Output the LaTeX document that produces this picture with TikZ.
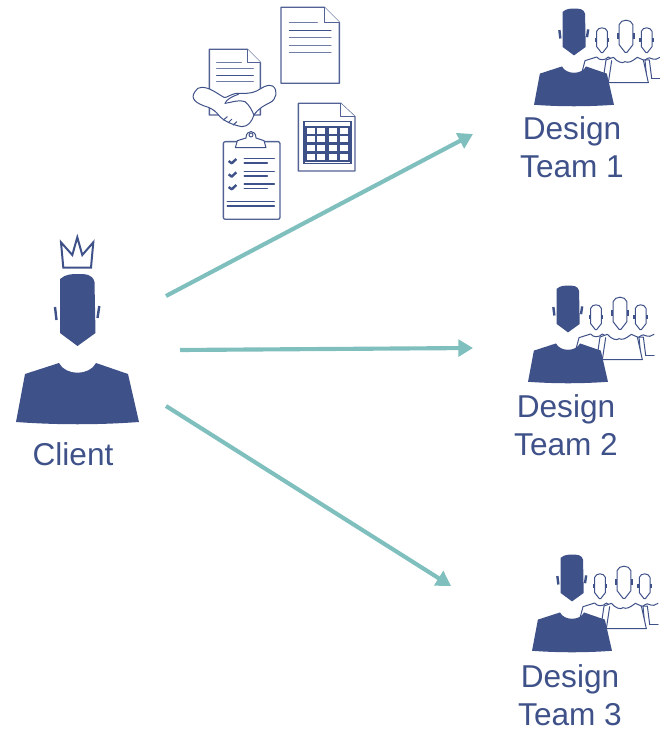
\documentclass[tikz,border=0pt]{standalone}
\usepackage{fontspec}
\setmainfont{Liberation Sans}
\usetikzlibrary{arrows.meta}
\definecolor{ink}{HTML}{3F5189}
\definecolor{teal}{HTML}{7FBFBD}
\tikzset{
  x=0.75pt,y=-0.75pt,
  flow/.style={draw=teal,line width=3.1pt,-{Triangle[length=11pt,width=12.5pt]}},
  lbl/.style={text=ink,font=\fontsize{23.7}{24}\selectfont,inner sep=0pt,anchor=base},
  thin ink/.style={draw=ink,line width=.75pt,line join=round,line cap=round},
  thick ink/.style={draw=ink,line width=1.2pt,line cap=round},
  doc/.style={draw=ink!90,line width=1pt,line join=round,fill=white},
  pics/leader/.style={code={
    \fill[ink] (-17.5,-31) .. controls (-12,-36) and (-5,-36) .. (0,-36) .. controls (8,-36) and (15,-36) .. (17,-28) -- (18,23) -- (0,36) -- (-17.5,23) -- cycle;
    \fill[ink] (-18.5,53) .. controls (-12,66) and (12,66) .. (18.5,53) -- (50.5,64) -- (61.5,112) .. controls (20,115) and (-20,115) .. (-61.5,112) -- (-52.5,64) -- cycle;
    \draw[ink,line width=1.8pt] (-22.5,-3) -- (-21,10) (21.8,-4) -- (20,8);
  }},
  pics/follower/.style={code={
    \draw[thin ink,fill=white] (-16,-26) .. controls (-12,-40) and (12,-40) .. (16,-26) -- (16,20) -- (2,38) -- (-2,38) -- (-16,20) -- cycle;
    \draw[ink,line width=1.3pt] (-19,-6) -- (-19,7) (19,-6) -- (19,7);
  }},
  pics/teamgroup/.style={code={
    \begin{scope}[shift={(6,-22)},x=0.25pt,y=-0.25pt]
      % right follower body
      \draw[thin ink,fill=white] (200,205) -- (195,150) .. controls (205,142) and (212,142) .. (218,147) .. controls (225,152) and (230,146) .. (240,142);
      \draw[thin ink] (215,205) -- (240,205);
      % left follower body
      \draw[thin ink,fill=white] (5,190) -- (15,152) -- (50,141) .. controls (58,152) and (75,152) .. (85,141) -- (100,150) -- (80,190) -- cycle;
      % middle follower body
      \draw[thin ink,fill=white] (85,218) -- (68,218) -- (78,150) -- (100,142) .. controls (112,156) and (128,162) .. (135,155) .. controls (145,160) and (155,155) .. (172,142) -- (190,150) -- (205,218) -- cycle;
      \draw[thin ink] (85,218) -- (95,152);
      \draw[thin ink] (190,150) -- (208,150) -- (215,205);
      \pic at (66,90) {follower};
      \pic at (138,78) [scale=1.3] {follower};
      \pic at (200,90) {follower};
    \end{scope}
    \pic[scale=.65] at (0,0) {leader};
  }}
}
\begin{document}
\begin{tikzpicture}
\useasboundingbox (0,0) rectangle (659,730);

% client
\pic at (77.5,310) {leader};
\draw[draw=ink,line width=1.5pt,line join=miter] (63.3,267.7) -- (61,242.3) -- (72.3,255) -- (77.3,237.3) -- (82.3,255) -- (93.3,242.3) -- (91,267.7) -- cycle;
\node[lbl] (client) at (73,465) {Client};

% teams
\pic at (574,32) {teamgroup};
\pic at (568,309) {teamgroup};
\pic at (572,578) {teamgroup};
\node[lbl] (t1a) at (572,140) {Design};
\node[lbl] (t1b) at (572,178) {Team 1};
\node[lbl] (t2a) at (566,417) {Design};
\node[lbl] (t2b) at (566,455) {Team 2};
\node[lbl] (t3a) at (570,687) {Design};
\node[lbl] (t3b) at (570,725) {Team 3};

% documents, coordinates read off a 3x crop
\begin{scope}[shift={(180,0)},x=0.25pt,y=-0.25pt]
  % top document
  \draw[doc] (303,22) -- (433,22) -- (478,67) -- (478,250) -- (303,250) -- cycle;
  \draw[doc] (433,22) -- (433,67) -- (478,67);
  \draw[thin ink,draw=ink!75] (328,67) -- (412,67) (328,114) -- (453,114) (328,136) -- (453,136) (328,158) -- (453,158);
  \draw[thin ink] (328,91) -- (453,91);
  % document behind the handshake
  \draw[doc] (88,148) -- (202,148) -- (241,187) -- (241,345) -- (88,345) -- cycle;
  \draw[doc] (202,148) -- (202,187) -- (241,187);
  \draw[thin ink,draw=ink!75] (110,187) -- (184,187) (110,207) -- (220,207) (110,245) -- (220,245);
  \draw[thin ink] (110,226) -- (220,226);
  % handshake
  \draw[thin ink,fill=white] (45,275) .. controls (30,295) and (45,310) .. (85,322) .. controls (100,328) and (108,335) .. (120,350)
     .. controls (135,365) and (160,375) .. (185,380) .. controls (205,380) and (215,365) .. (222,345)
     .. controls (235,325) and (255,315) .. (270,308) .. controls (290,298) and (295,270) .. (278,258)
     .. controls (262,250) and (245,265) .. (230,273) .. controls (212,282) and (190,280) .. (172,280)
     .. controls (150,282) and (140,295) .. (132,292) .. controls (110,280) and (90,262) .. (65,262) .. controls (55,262) and (50,266) .. (45,275) -- cycle;
  \draw[thin ink] (135,310) .. controls (140,298) and (155,290) .. (175,283);
  \draw[thin ink] (135,310) .. controls (155,308) and (170,298) .. (195,305) .. controls (208,315) and (215,330) .. (222,345);
  \draw[thin ink] (130,360) -- (142,350) (145,368) -- (155,358) (160,375) -- (170,365);
  % table document
  \draw[doc] (355,310) -- (482,310) -- (525,350) -- (525,513) -- (355,513) -- cycle;
  \draw[doc] (482,310) -- (482,350) -- (525,350);
  \fill[ink] (368,362) rectangle (516,493);
  \fill[white] (374,366) rectangle (510,378);
  \fill[white] (374,485) rectangle (510,489);
  \foreach \xa/\xb in {380/404,412/436,446/471,481/504}
    \foreach \ya/\yb in {385/401,409/427,436/454,461/479}
      \fill[white] (\xa,\ya) rectangle (\xb,\yb);
  % clipboard
  \draw[doc,rounded corners=1.5pt] (130,425) rectangle (300,658);
  \draw[thin ink,fill=white] (166,443) -- (172,422) -- (198,414) .. controls (198,388) and (228,388) .. (228,414) -- (252,422) -- (258,443) -- cycle;
  \draw[thin ink] (213,405) circle [radius=6];
  \foreach \yy in {483,523,561}
    \draw[ink,line width=1.8pt,line join=round] (146,\yy) -- (155,\yy+7) -- (169,{\yy-6});
  \draw[thick ink] (193,475) -- (283,475) (193,489) -- (262,489) (193,515) -- (283,515) (193,528) -- (262,528) (193,552) -- (283,552) (193,566) -- (262,566) (142,605) -- (283,605) (142,618) -- (283,618);
\end{scope}

% connectors
\coordinate (c1) at (166,296);
\coordinate (e1) at (473,134);
\coordinate (c2) at (180,350);
\coordinate (e2) at (473,348);
\coordinate (c3) at (166,406);
\coordinate (e3) at (451,586);
\draw[flow] (c1) -- (e1);
\draw[flow] (c2) -- (e2);
\draw[flow] (c3) -- (e3);
\end{tikzpicture}
\end{document}
